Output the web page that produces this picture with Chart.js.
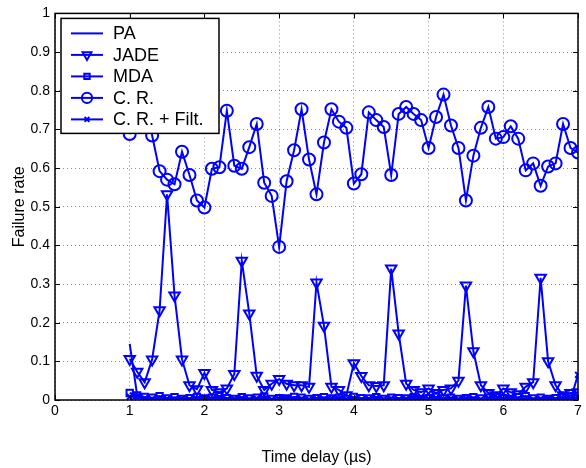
<!DOCTYPE html>
<html>
<head>
<meta charset="utf-8">
<script src="https://cdn.jsdelivr.net/npm/chart.js@4.4.1/dist/chart.umd.min.js"></script>
<style>
  html, body { margin: 0; padding: 0; background: #fff; }
  #wrap { width: 586px; height: 468px; }
</style>
</head>
<body>
<div id="wrap"><canvas id="chart"></canvas></div>
<script>
// time delay (µs) of each measurement
const delays = [
  1.0, 1.1, 1.2, 1.3, 1.4, 1.5, 1.6, 1.7, 1.8, 1.9,
  2.0, 2.1, 2.2, 2.3, 2.4, 2.5, 2.6, 2.7, 2.8, 2.9,
  3.0, 3.1, 3.2, 3.3, 3.4, 3.5, 3.6, 3.7, 3.8, 3.9,
  4.0, 4.1, 4.2, 4.3, 4.4, 4.5, 4.6, 4.7, 4.8, 4.9,
  5.0, 5.1, 5.2, 5.3, 5.4, 5.5, 5.6, 5.7, 5.8, 5.9,
  6.0, 6.1, 6.2, 6.3, 6.4, 6.5, 6.6, 6.7, 6.8, 6.9,
  7.0
];

// failure rates per method
const paRate = [
  0.145, 0.012, 0.006, 0.004, 0.003, 0.005, 0.002, 0.004, 0.003, 0.002,
  0.004, 0.003, 0.005, 0.002, 0.003, 0.004, 0.002, 0.003, 0.005, 0.002,
  0.003, 0.004, 0.002, 0.003, 0.002, 0.004, 0.003, 0.002, 0.004, 0.003,
  0.002, 0.003, 0.005, 0.002, 0.003, 0.004, 0.002, 0.003, 0.002, 0.004,
  0.003, 0.002, 0.004, 0.003, 0.002, 0.003, 0.005, 0.002, 0.003, 0.004,
  0.002, 0.003, 0.004, 0.002, 0.003, 0.002, 0.004, 0.003, 0.002, 0.003,
  0.004
];
const jadeRate = [
  0.106, 0.073, 0.046, 0.105, 0.232, 0.532, 0.270, 0.105, 0.038, 0.028,
  0.070, 0.026, 0.020, 0.030, 0.067, 0.360, 0.224, 0.063, 0.026, 0.042,
  0.054, 0.042, 0.038, 0.038, 0.034, 0.304, 0.192, 0.034, 0.026, 0.012,
  0.095, 0.062, 0.038, 0.036, 0.038, 0.340, 0.172, 0.042, 0.026, 0.020,
  0.030, 0.018, 0.026, 0.030, 0.050, 0.296, 0.126, 0.038, 0.018, 0.012,
  0.030, 0.020, 0.015, 0.034, 0.046, 0.316, 0.100, 0.038, 0.012, 0.018,
  0.020
];
const mdaRate = [
  0.018, 0.012, 0.008, 0.006, 0.010, 0.004, 0.007, 0.003, 0.005, 0.008,
  0.004, 0.006, 0.010, 0.005, 0.003, 0.007, 0.004, 0.006, 0.009, 0.003,
  0.005, 0.004, 0.008, 0.006, 0.003, 0.005, 0.007, 0.004, 0.006, 0.003,
  0.008, 0.005, 0.004, 0.007, 0.003, 0.006, 0.005, 0.004, 0.007, 0.003,
  0.005, 0.008, 0.004, 0.006, 0.003, 0.005, 0.007, 0.004, 0.006, 0.009,
  0.005, 0.003, 0.007, 0.010, 0.004, 0.006, 0.003, 0.005, 0.008, 0.004,
  0.006
];
const crRate = [
  0.688, 0.750, 0.790, 0.684, 0.592, 0.570, 0.558, 0.642, 0.582, 0.516,
  0.498, 0.598, 0.602, 0.748, 0.606, 0.598, 0.654, 0.714, 0.562, 0.528,
  0.396, 0.566, 0.646, 0.752, 0.622, 0.532, 0.666, 0.752, 0.720, 0.704,
  0.560, 0.584, 0.744, 0.724, 0.706, 0.582, 0.740, 0.758, 0.740, 0.724,
  0.652, 0.732, 0.790, 0.710, 0.652, 0.516, 0.632, 0.704, 0.758, 0.676,
  0.680, 0.708, 0.676, 0.594, 0.612, 0.554, 0.604, 0.612, 0.714, 0.652,
  0.640
];
const crFiltRate = [
  0.008, 0.010, 0.004, 0.002, 0.005, 0.003, 0.001, 0.004, 0.002, 0.003,
  0.006, 0.002, 0.004, 0.001, 0.003, 0.005, 0.002, 0.004, 0.003, 0.001,
  0.004, 0.006, 0.002, 0.003, 0.001, 0.004, 0.002, 0.005, 0.003, 0.002,
  0.004, 0.001, 0.003, 0.006, 0.002, 0.004, 0.001, 0.003, 0.005, 0.002,
  0.004, 0.003, 0.001, 0.004, 0.002, 0.005, 0.003, 0.001, 0.004, 0.002,
  0.003, 0.006, 0.002, 0.004, 0.001, 0.003, 0.005, 0.002, 0.004, 0.001,
  0.065
];

const xTicks = [0, 1, 2, 3, 4, 5, 6, 7];
const yTicks = [0, 0.1, 0.2, 0.3, 0.4, 0.5, 0.6, 0.7, 0.8, 0.9, 1];

const BLUE = '#0000ff';
const FONT = "'Liberation Sans', Arial, Helvetica, sans-serif";

function series(label, values, style, radius, rotation) {
  return {
    label: label,
    data: delays.map((d, i) => ({ x: d, y: values[i] })),
    borderColor: BLUE,
    backgroundColor: 'transparent',
    borderWidth: 2,
    pointStyle: style,
    pointRadius: radius,
    pointRotation: rotation || 0,
    pointBorderColor: BLUE,
    pointBackgroundColor: 'transparent',
    pointBorderWidth: 2,
    tension: 0
  };
}

const datasets = [
  series('C. R. + Filt.', crFiltRate, 'crossRot', 4),
  series('C. R.', crRate, 'circle', 6),
  series('MDA', mdaRate, 'rect', 4.5),
  series('JADE', jadeRate, 'triangle', 6, 180),
  series('PA', paRate, false, 0)
];

// legend inside the plot, MATLAB style
const boxLegend = {
  id: 'boxLegend',
  afterDraw(chart) {
    const ctx = chart.ctx;
    const a = chart.chartArea;
    const x0 = a.left + 6, y0 = a.top + 5, w = 158, h = 115;
    ctx.save();
    ctx.fillStyle = '#fff';
    ctx.fillRect(x0, y0, w, h);
    ctx.strokeStyle = '#000';
    ctx.lineWidth = 1.5;
    ctx.strokeRect(x0, y0, w, h);
    const items = datasets.slice().reverse();
    items.forEach((ds, i) => {
      const cy = y0 + 15 + i * 21.5;
      ctx.strokeStyle = BLUE;
      ctx.lineWidth = 2;
      ctx.beginPath();
      ctx.moveTo(x0 + 10, cy);
      ctx.lineTo(x0 + 42, cy);
      ctx.stroke();
      if (ds.pointStyle) {
        ctx.fillStyle = 'rgba(0,0,0,0)';
        Chart.helpers.drawPoint(ctx, {
          pointStyle: ds.pointStyle,
          rotation: ds.pointRotation,
          radius: ds.pointRadius * 0.85,
          borderWidth: 2
        }, x0 + 26, cy);
      }
      ctx.fillStyle = '#000';
      ctx.font = '18px ' + FONT;
      ctx.textBaseline = 'middle';
      ctx.textAlign = 'left';
      ctx.fillText(ds.label, x0 + 52, cy + 1);
    });
    ctx.restore();
  }
};

// box around the axes and inward ticks on all four sides
const axesBox = {
  id: 'axesBox',
  afterDraw(chart) {
    const ctx = chart.ctx;
    const a = chart.chartArea;
    const xs = chart.scales.x, ys = chart.scales.y;
    ctx.save();
    ctx.strokeStyle = '#000';
    ctx.lineWidth = 1;
    ctx.beginPath();
    xTicks.forEach(t => {
      const px = Math.round(xs.getPixelForValue(t)) + 0.5;
      ctx.moveTo(px, a.bottom); ctx.lineTo(px, a.bottom - 5);
      ctx.moveTo(px, a.top); ctx.lineTo(px, a.top + 5);
    });
    yTicks.forEach(t => {
      const py = Math.round(ys.getPixelForValue(t)) + 0.5;
      ctx.moveTo(a.left, py); ctx.lineTo(a.left + 5, py);
      ctx.moveTo(a.right, py); ctx.lineTo(a.right - 5, py);
    });
    ctx.stroke();
    ctx.lineWidth = 1.5;
    ctx.strokeRect(a.left, a.top, a.right - a.left, a.bottom - a.top);
    ctx.restore();
  }
};

new Chart(document.getElementById('chart'), {
  type: 'line',
  data: { datasets: datasets },
  options: {
    responsive: true,
    maintainAspectRatio: false,
    animation: false,
    layout: { padding: { left: 0, right: 3, top: 12, bottom: 0 } },
    plugins: {
      legend: { display: false },
      tooltip: { enabled: false }
    },
    scales: {
      x: {
        type: 'linear',
        min: 0,
        max: 7,
        afterFit: s => { s.height = 68; },
        afterBuildTicks: s => { s.ticks = xTicks.map(v => ({ value: v })); },
        ticks: { color: '#000', font: { family: FONT, size: 14 }, padding: 3, maxRotation: 0 },
        grid: { color: 'rgba(0,0,0,0.45)', drawTicks: false, lineWidth: 1 },
        border: { display: false, dash: [1, 3] },
        title: {
          display: true,
          text: 'Time delay (µs)',
          color: '#000',
          font: { family: FONT, size: 16 },
          padding: { top: 0, bottom: 1 }
        }
      },
      y: {
        min: 0,
        max: 1,
        afterFit: s => { s.width = 55; },
        afterBuildTicks: s => { s.ticks = yTicks.map(v => ({ value: v })); },
        ticks: {
          color: '#000',
          font: { family: FONT, size: 14 },
          padding: 5,
          callback: v => String(+v.toFixed(1))
        },
        grid: { color: 'rgba(0,0,0,0.45)', drawTicks: false, lineWidth: 1 },
        border: { display: false, dash: [1, 3] },
        title: {
          display: true,
          text: 'Failure rate',
          color: '#000',
          font: { family: FONT, size: 16 },
          padding: { top: 10, bottom: 0 }
        }
      }
    }
  },
  plugins: [boxLegend, axesBox]
});
</script>
</body>
</html>
